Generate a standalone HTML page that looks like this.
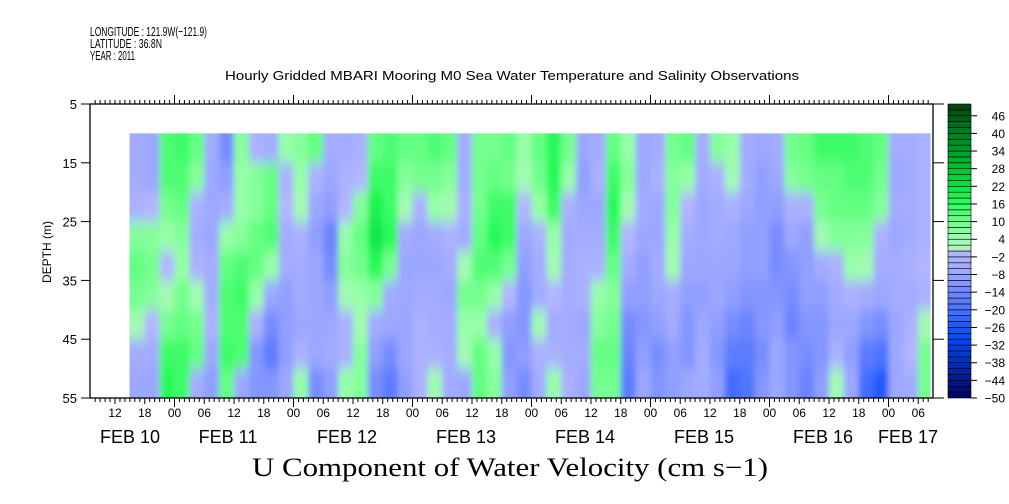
<!DOCTYPE html>
<html><head><meta charset="utf-8"><style>
html,body{margin:0;padding:0;background:#fff;}
svg{display:block;font-family:"Liberation Sans",sans-serif;}
</style></head><body>
<svg id="chart" width="1009" height="504" viewBox="0 0 1009 504" xmlns="http://www.w3.org/2000/svg">
<defs>
<filter id="soft" x="0" y="0" width="1" height="1" filterUnits="objectBoundingBox">
<feGaussianBlur stdDeviation="3 7" result="b"/>
<feComponentTransfer in="b"><feFuncA type="linear" slope="0" intercept="1"/></feComponentTransfer>
</filter>
<clipPath id="dataClip"><rect x="128.6" y="133.4" width="802" height="264.6"/></clipPath>
</defs>
<g font-size="13" fill="#000">
<text x="90" y="36" textLength="117" lengthAdjust="spacingAndGlyphs">LONGITUDE : 121.9W(−121.9)</text>
<text x="90" y="48" textLength="72" lengthAdjust="spacingAndGlyphs">LATITUDE : 36.8N</text>
<text x="90" y="60" textLength="45" lengthAdjust="spacingAndGlyphs">YEAR : 2011</text>
</g>
<text x="225" y="80" font-size="13" textLength="574" lengthAdjust="spacingAndGlyphs">Hourly Gridded MBARI Mooring M0 Sea Water Temperature and Salinity Observations</text>
<g clip-path="url(#dataClip)"><g id="heat" filter="url(#soft)"></g></g>
<g id="axes"></g>
<g id="cbar"></g>
<text transform="translate(51,252) rotate(-90)" text-anchor="middle" font-size="12">DEPTH (m)</text>
<text x="252" y="476" font-size="26" font-family="Liberation Serif, serif" textLength="516" lengthAdjust="spacingAndGlyphs">U Component of Water Velocity (cm s−1)</text>
</svg>
<script>
// depth bands (m) top edges, 5m each
const depthBands = [10,15,20,25,30,35,40,45,50];
// column start hour (hours since FEB 10 00:00), 3-hour columns
const colStartHour = 15;
const colHours = 3;
// velocity values (cm/s): one array per column, top to bottom depth band
const u = [
[-5,-5,-3,6,10,8,3,-6,-8],[-8,-8,-2,6,8,6,-2,-5,-8],[12,12,8,4,-2,2,8,14,16],[14,12,10,6,4,8,10,14,14],
[10,6,-4,-6,-4,2,8,10,-6],[-6,-8,-8,-8,-6,-6,-4,-8,-10],[-14,-10,-6,4,10,12,12,14,10],[6,4,4,6,12,14,12,12,-8],
[-4,6,6,10,10,4,-4,-12,-12],[-6,10,10,12,4,-8,-14,-18,-12],[4,-4,-2,-6,-6,-10,-10,-10,-8],[6,4,2,-4,-6,-6,-8,-4,4],
[10,-4,-8,-10,-8,-8,-8,-8,-14],[-6,-8,-10,-16,-14,-10,-8,-6,-10],[-6,-4,-2,4,6,2,-4,-4,4],[-4,-2,6,10,8,4,2,6,6],
[10,14,18,20,16,6,-6,-10,-14],[12,14,14,16,8,-6,-8,-14,-18],[10,6,2,-6,-8,-8,-8,-8,-10],[10,8,-4,-8,-8,-6,-4,-4,-4],
[12,8,4,-6,-8,-6,-6,-4,2],[10,6,2,-4,-6,-8,-6,-6,-6],[-6,-6,-4,-6,2,8,4,2,-8],[8,8,8,10,12,8,4,10,10],
[8,10,14,16,12,4,-4,4,6],[10,8,14,14,8,-2,-10,-12,-10],[4,2,-2,-8,-10,-12,-12,-10,-14],[10,8,4,-4,-6,-6,2,-4,-6],
[16,16,14,4,2,-2,-6,-4,4],[8,4,-4,-6,-6,-6,-6,-6,-4],[-8,-10,-8,-6,-4,-4,-8,-6,-8],[-6,-4,-8,-6,-4,4,6,10,8],
[10,14,16,14,10,6,8,10,8],[4,6,2,-2,-6,-10,-14,-16,-18],[-8,-8,-6,-8,-10,-10,-12,-10,-8],[-6,-4,-8,-8,-6,-8,-10,-14,-12],
[8,6,6,4,2,-6,-6,-10,-10],[10,4,-2,-6,-8,-10,-12,-12,-8],[-6,-6,-8,-8,-8,-10,-8,-6,-6],[6,-4,-6,-6,-8,-8,-10,-12,-10],
[4,2,-4,-8,-8,-10,-14,-18,-22],[-6,-6,-8,-10,-10,-12,-16,-18,-20],[-8,-10,-10,-10,-10,-12,-12,-14,-12],[-6,-8,-10,-14,-14,-12,-10,-8,-8],
[8,6,-4,-8,-12,-14,-16,-12,-12],[10,8,-4,-10,-10,-10,-12,-14,-16],[14,10,8,2,-6,-10,-12,-12,-10],[14,10,10,6,-4,-6,-8,-4,2],
[14,12,10,6,4,-4,-8,-10,-8],[12,12,10,6,2,-6,-12,-18,-22],[10,8,6,-4,-6,-8,-14,-20,-26],[-6,-8,-6,-8,-6,-6,-8,-8,-8],
[-6,-6,-6,-6,-4,-6,-4,-2,-6],[-4,-4,-4,-4,-2,-4,2,8,8]
];
// colorbar
const levelMin = -50, levelMax = 50, levelStep = 2;
const cbarLabels = [46,40,34,28,22,16,10,4,-2,-8,-14,-20,-26,-32,-38,-44,-50];
const depthTicks = [5,15,25,35,45,55];
const hourLabels = ["00","06","12","18"];
const dayLabels = ["FEB 10","FEB 11","FEB 12","FEB 13","FEB 14","FEB 15","FEB 16","FEB 17"];

const NS="http://www.w3.org/2000/svg";
const X0=90,X1=933,Y0=104,Y1=398;
const pxPerHour=119/24;
function xOf(h){return 174.5+(h-24)*pxPerHour;}
function yOf(d){return Y0+(d-5)*(Y1-Y0)/50;}
const anchors=[[-50,[0,0,102]],[-44,[0,26,136]],[-38,[0,48,184]],[-32,[0,64,232]],[-26,[26,85,255]],[-20,[74,114,255]],[-14,[112,136,255]],[-8,[152,164,255]],[-1,[178,182,255]],[1,[176,244,192]],[5,[150,255,168]],[11,[100,255,130]],[17,[40,250,90]],[23,[0,225,64]],[29,[0,187,51]],[35,[0,153,40]],[41,[0,122,32]],[49,[0,70,20]]];
function col(v){
  if(v<=anchors[0][0])return 'rgb('+anchors[0][1]+')';
  for(let i=1;i<anchors.length;i++){if(v<=anchors[i][0]){const a=anchors[i-1],b=anchors[i];const t=(v-a[0])/(b[0]-a[0]);return 'rgb('+a[1].map((c,k)=>Math.round(c+(b[1][k]-c)*t)).join(',')+')';}}
  return 'rgb('+anchors[anchors.length-1][1]+')';
}
function bandColor(v){const b=Math.floor(v/levelStep)*levelStep;return col(b+levelStep/2);}
function mk(tag,attrs,parent){const e=document.createElementNS(NS,tag);for(const k in attrs)e.setAttribute(k,attrs[k]);parent.appendChild(e);return e;}

const heat=document.getElementById('heat');
u.forEach((c,i)=>{
  const xa=xOf(colStartHour+i*colHours), xb=xOf(colStartHour+(i+1)*colHours);
  c.forEach((v,j)=>{
    const r=mk('rect',{x:xa.toFixed(2),y:yOf(depthBands[j]).toFixed(2),width:(xb-xa+0.4).toFixed(2),height:(yOf(depthBands[j]+5)-yOf(depthBands[j])+0.4).toFixed(2),fill:bandColor(v)},heat);
    
    
  });
});

const ax=document.getElementById('axes');
const frame=mk('rect',{x:X0,y:Y0,width:X1-X0,height:Y1-Y0,fill:'none',stroke:'#000','stroke-width':1.3},ax);


depthTicks.forEach(d=>{
  const y=yOf(d);
  mk('line',{x1:81,x2:X0,y1:y,y2:y,stroke:'#000'},ax);
  mk('line',{x1:X1,x2:X1+11,y1:y,y2:y,stroke:'#000'},ax);
  const t=mk('text',{x:77,y:y+5,'text-anchor':'end','font-size':13},ax);t.textContent=d;
  
  
});
for(let h=8;h<=177;h++){
  const x=xOf(h); if(x<X0||x>X1)continue;
  const major=h%24===0, mid=h%6===0;
  mk('line',{x1:x,x2:x,y1:Y1,y2:Y1+(major?9:(mid?6:4)),stroke:'#000'},ax);
  mk('line',{x1:x,x2:x,y1:Y0,y2:Y0-(major?9:4),stroke:'#000'},ax);
  if(mid){
    const t=mk('text',{x:x,y:417,'text-anchor':'middle','font-size':12},ax);
    t.textContent=hourLabels[(h/6)%4];
    
    
  }
}
dayLabels.forEach((s,i)=>{
  let x=xOf(12+24*i)-6;
  x=Math.max(130,Math.min(x,908));
  const t=mk('text',{x:x,y:443,'text-anchor':'middle','font-size':18},ax);
  t.textContent=s;
  
  
});

const cb=document.getElementById('cbar');
const nb=(levelMax-levelMin)/levelStep, bh=(Y1-Y0)/nb;
for(let k=0;k<nb;k++){
  const v=levelMin+k*levelStep;
  const r=mk('rect',{x:948,y:(Y1-(k+1)*bh).toFixed(2),width:23,height:bh.toFixed(2),fill:bandColor(v),stroke:'#000','stroke-width':0.6},cb);
  
  
}
cbarLabels.forEach(v=>{
  const y=Y1-(v-levelMin)*(Y1-Y0)/(levelMax-levelMin);
  mk('line',{x1:971,x2:977,y1:y,y2:y,stroke:'#000'},cb);
  const t=mk('text',{x:1005,y:y+4.5,'text-anchor':'end','font-size':12},cb);
  t.textContent=v<0?'−'+(-v):v;
  
  
});
</script>
</body></html>
